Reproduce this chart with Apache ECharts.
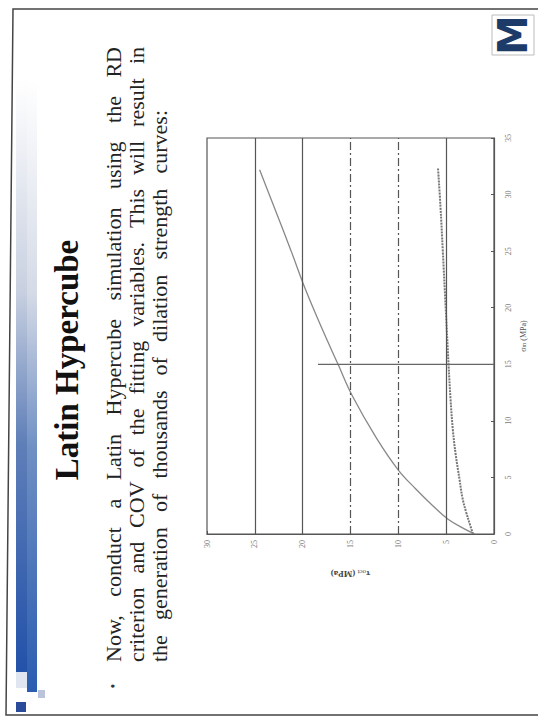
<!DOCTYPE html>
<html>
<head>
<meta charset="utf-8">
<script src="https://cdn.jsdelivr.net/npm/echarts@6/dist/echarts.min.js"></script>
<style>
html,body{margin:0;padding:0;background:#fff;}
#c{width:538px;height:717px;}
</style>
</head>
<body>
<div id="c"></div>
<script>
// ---- data (τ_oct in MPa, σ_m in MPa) ----
const tauTicks = [0, 5, 10, 15, 20, 25, 30];
const sigmaTicks = [0, 5, 10, 15, 20, 25, 30, 35];
// upper dilation curve: σ_m values and corresponding τ_oct
const upperSigma = [0, 0.5, 1.3, 2.5, 4.0, 5.65, 8.5, 12.2, 15.0, 18.0, 21.6, 25.0, 28.5, 32.2];
const upperTau   = [2.0, 3.2, 4.8, 6.4, 8.2, 10.0, 12.3, 14.8, 16.3, 17.9, 19.7, 21.2, 22.8, 24.5];
// lower dilation curve
const lowerSigma = [0, 0.8, 1.9, 3.2, 4.8, 7.0, 9.2, 12.0, 15.0, 20.0, 25.0, 29.0, 32.3];
const lowerTau   = [2.2, 2.5, 2.9, 3.3, 3.6, 4.0, 4.3, 4.55, 4.75, 5.05, 5.35, 5.6, 5.85];
// vertical marker at σ_m = 15
const markerSigma = [15, 15];
const markerTau = [0, 18.4];
// reference lines of τ_oct (dashed ones)
const tauGrid = [5, 10, 15, 20, 25];
const tauGridDashed = [10, 15];

const titleText = 'Latin Hypercube';
const bodyLines = [
  'Now, conduct a Latin Hypercube simulation using the RD',
  'criterion and COV of the fitting variables.  This will result in',
  'the generation of thousands of dilation strength curves:'
];

const chart = echarts.init(document.getElementById('c'), null, {renderer: 'svg'});

function pairs(tau, sig){ return tau.map((t,i)=>[t, sig[i]]); }

// measure words for justified rotated text
const mctx = document.createElement('canvas').getContext('2d');
const bodyFont = '22px "Liberation Serif"';
mctx.font = bodyFont;
const graphics = [];

// slide frame
graphics.push({type:'polyline', shape:{points:[[538,9],[13,9],[6,715],[538,715]]}, style:{stroke:'#444', lineWidth:1.5, fill:null}, z:1});

// gradient bars on left
graphics.push({type:'rect', shape:{x:16,y:80,width:11,height:605}, style:{fill:new echarts.graphic.LinearGradient(0,0,0,1,[{offset:0,color:'#ffffff'},{offset:0.35,color:'#c8d0e0'},{offset:0.6,color:'#5f7fb8'},{offset:1,color:'#1f4fa8'}])}});
graphics.push({type:'rect', shape:{x:27,y:80,width:10,height:612}, style:{fill:new echarts.graphic.LinearGradient(0,0,0,1,[{offset:0,color:'#ffffff'},{offset:0.35,color:'#d4dae6'},{offset:0.6,color:'#7090c4'},{offset:1,color:'#2a5cb0'}])}});
graphics.push({type:'rect', shape:{x:16,y:672,width:11,height:16}, style:{fill:'#dfe6f2'}});
graphics.push({type:'rect', shape:{x:38,y:690,width:7,height:8}, style:{fill:'#b9c3da'}});
graphics.push({type:'rect', shape:{x:16,y:702,width:10,height:10}, style:{fill:'#2a4a9a'}});

// logo
graphics.push({type:'rect', shape:{x:492,y:15,width:42,height:40}, style:{fill:'#fff', stroke:'#bbb', lineWidth:1}});
graphics.push({type:'text', x:513, y:35, rotation:Math.PI/2, style:{text:'M', font:'bold 40px "DejaVu Sans"', fill:'#1c3b68', align:'center', verticalAlign:'middle', textAlign:'center', textVerticalAlign:'middle'}});

// title
graphics.push({type:'text', x:67, y:360, rotation:Math.PI/2, style:{text:titleText, font:'bold 33px "Liberation Serif"', fill:'#111', align:'center', verticalAlign:'middle', textAlign:'center', textVerticalAlign:'middle'}});

// bullet
graphics.push({type:'text', x:113, y:686, rotation:Math.PI/2, style:{text:'•', font:'14px "Liberation Serif"', fill:'#333', align:'center', verticalAlign:'middle', textAlign:'center', textVerticalAlign:'middle'}});

const lineX = [113, 136, 159];
const startY = 662;
const endYs = [47, 47, 110];
bodyLines.forEach((line, li) => {
  const words = line.split(/\s+/);
  const widths = words.map(w => mctx.measureText(w).width);
  const total = widths.reduce((a,b)=>a+b,0);
  const gap = ((startY - endYs[li]) - total) / (words.length - 1);
  let y = startY;
  words.forEach((w, wi) => {
    graphics.push({type:'text', x:lineX[li], y:y, rotation:Math.PI/2, style:{text:w, font:bodyFont, fill:'#222', align:'left', verticalAlign:'middle', textAlign:'left', textVerticalAlign:'middle'}});
    y -= widths[wi] + gap;
  });
});

const gridColor = '#555';
const markLineData = tauGrid.map(t => ({
  xAxis: t,
  lineStyle: {color: gridColor, width: 1.2, type: tauGridDashed.includes(t) ? [8,3,2,3] : 'solid'}
}));

const option = {
  animation: false,
  backgroundColor: '#fff',
  graphic: graphics,
  grid: {left: 207, right: 44, top: 138, bottom: 183, show: true, borderColor: gridColor, borderWidth: 1.2, backgroundColor: 'transparent'},
  xAxis: {
    type: 'value', min: tauTicks[0], max: tauTicks[tauTicks.length-1], interval: 5, inverse: true, position: 'bottom',
    axisLine: {show: true, lineStyle: {color: gridColor, width: 1.2}},
    axisTick: {show: true, inside: true, length: 3, lineStyle: {color: gridColor}},
    axisLabel: {rotate: 90, fontSize: 8, color: '#777', fontFamily: 'Liberation Serif', margin: 6},
    splitLine: {show: false},
    name: '{a|τ}{s|oct}{a| (MPa)}', nameLocation: 'middle', nameRotate: 180, nameGap: 34,
    nameTextStyle: {rich: {a: {fontSize: 9, color: '#444', fontFamily: 'Liberation Serif', fontWeight: 'bold'}, s: {fontSize: 7, color: '#444', fontFamily: 'Liberation Serif', verticalAlign: 'bottom', padding: [4,0,0,0]}}}
  },
  yAxis: {
    type: 'value', min: sigmaTicks[0], max: sigmaTicks[sigmaTicks.length-1], interval: 5, position: 'right',
    axisLine: {show: true, lineStyle: {color: gridColor, width: 1.2}},
    axisTick: {show: true, inside: true, length: 3, lineStyle: {color: gridColor}},
    axisLabel: {rotate: 90, fontSize: 8, color: '#777', fontFamily: 'Liberation Serif', margin: 10},
    splitLine: {show: false},
    name: '{a|σ}{s|m}{a| (MPa)}', nameLocation: 'middle', nameRotate: 90, nameGap: 20,
    nameTextStyle: {rich: {a: {fontSize: 8, color: '#555', fontFamily: 'Liberation Serif'}, s: {fontSize: 6, color: '#555', fontFamily: 'Liberation Serif'}}}
  },
  series: [
    {type: 'line', data: [], markLine: {silent: true, symbol: 'none', label: {show: false}, data: markLineData}},
    {type: 'line', data: pairs(upperTau, upperSigma), smooth: 0.4, showSymbol: false, lineStyle: {color: '#888', width: 1.3}},
    {type: 'line', data: pairs(lowerTau, lowerSigma), smooth: 0.4, showSymbol: false, lineStyle: {color: '#777', width: 2, type: [2,1]}},
    {type: 'line', data: pairs(markerTau, markerSigma), showSymbol: false, lineStyle: {color: '#666', width: 1.2}}
  ]
};
chart.setOption(option);
</script>
</body>
</html>
